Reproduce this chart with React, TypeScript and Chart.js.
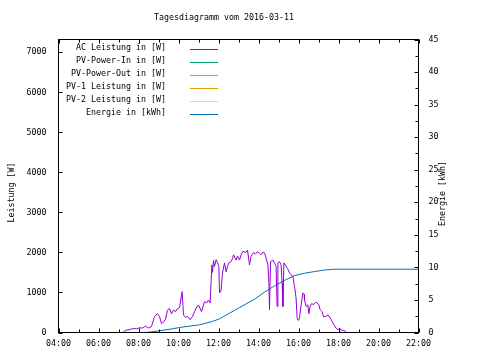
import React, { useEffect, useRef } from "react";
import { Chart, registerables } from "chart.js";

Chart.register(...registerables);

const TITLE = "Tagesdiagramm vom 2016-03-11";
const Y_TITLE = "Leistung [W]";
const Y2_TITLE = "Energie [kWh]";
const SERIES_LABELS = [
  "AC Leistung in [W]",
  "PV-Power-In in [W]",
  "PV-Power-Out in [W]",
  "PV-1 Leistung in [W]",
  "PV-2 Leistung in [W]",
  "Energie in [kWh]",
];
const SERIES_COLORS = ["#9400d3", "#009e73", "#56b4e9", "#e69f00", "#f0e442", "#0072b2"];

// AC power: time of day (hours) and watts
const acHours = [
  7.25, 7.4, 7.6, 7.75, 7.9, 8.05, 8.2, 8.35, 8.5, 8.65,
  8.8, 8.95, 9.05, 9.15, 9.25, 9.35, 9.45, 9.55, 9.65, 9.75,
  9.85, 9.95, 10.05, 10.18, 10.25, 10.35, 10.45, 10.58, 10.7, 10.8,
  10.88, 11.0, 11.15, 11.3, 11.4, 11.5, 11.58, 11.67, 11.7, 11.75,
  11.8, 11.88, 11.95, 12.02, 12.05, 12.13, 12.2, 12.3, 12.38, 12.45,
  12.52, 12.63, 12.7, 12.75, 12.88, 12.95, 13.05, 13.13, 13.22, 13.35,
  13.45, 13.55, 13.63, 13.75, 13.85, 13.95, 14.05, 14.13, 14.2, 14.3,
  14.38, 14.47, 14.52, 14.55, 14.6, 14.72, 14.8, 14.88, 14.93, 14.97,
  15.05, 15.13, 15.18, 15.22, 15.27, 15.38, 15.45, 15.55, 15.62, 15.72,
  15.8, 15.88, 15.93, 16.0, 16.05, 16.13, 16.22, 16.28, 16.3, 16.38,
  16.47, 16.52, 16.58, 16.65, 16.75, 16.85, 16.92, 17.02, 17.08, 17.18,
  17.25, 17.35, 17.47, 17.58, 17.68, 17.8, 17.88, 17.97, 18.05, 18.15,
  18.25, 18.35, 18.4,
];
const acWatts = [
  20, 60, 80, 100, 90, 120, 110, 160, 110, 150,
  400, 470, 400, 220, 260, 330, 560, 600, 470, 560,
  520, 600, 620, 1020, 440, 380, 400, 320, 400, 520,
  610, 690, 520, 770, 740, 810, 740, 1690, 1500, 1800,
  1650, 1820, 1750, 1650, 990, 1060, 1490, 1740, 1520, 1650,
  1740, 1770, 1850, 1940, 1810, 1910, 1810, 1940, 2030, 2000,
  2060, 1690, 1900, 2000, 1960, 2020, 1980, 1940, 2000, 1990,
  1860, 1690, 1240, 570, 1770, 1810, 1740, 1650, 650, 1740,
  1770, 1690, 1240, 650, 1740, 1650, 1600, 1490, 1450, 1400,
  1150, 860, 370, 300, 370, 690, 990, 950, 810, 650,
  690, 470, 650, 720, 700, 740, 750, 690, 570, 520,
  400, 400, 440, 370, 275, 170, 110, 67, 110, 50,
  60, 30, 0,
];

// Energy: time of day (hours) and kWh
const energyHours = [8.4, 9.05, 9.7, 10.05, 11.05, 11.7, 12.05, 12.55, 12.8, 13.05, 13.8, 14.3, 14.8, 15.3, 15.8, 16.3, 16.8, 17.3, 17.8, 22.0];
const energyKWh = [0, 0.26, 0.57, 0.77, 1.18, 1.7, 2.1, 2.97, 3.38, 3.84, 5.1, 6.2, 7.17, 8.0, 8.75, 9.1, 9.36, 9.6, 9.72, 9.72];

// Tick values
const xTickHours = [4, 6, 8, 10, 12, 14, 16, 18, 20, 22];
const yTickWatts = [0, 1000, 2000, 3000, 4000, 5000, 6000, 7000];
const y2TickKWh = [0, 5, 10, 15, 20, 25, 30, 35, 40, 45];

const X_MIN = 4;
const X_MAX = 22;
const Y_MAX = 7320;
const Y2_MAX = 45;

const FONT = "'DejaVu Sans Mono', 'Liberation Mono', monospace";
const FONT_SIZE = 8.3;

const gnuPlugin = {
  id: "gnuFrame",
  afterDraw(chart: any) {
    const { ctx, chartArea: a, scales } = chart;
    ctx.save();
    ctx.strokeStyle = "#000";
    ctx.lineWidth = 1;
    ctx.strokeRect(a.left, a.top, a.right - a.left, a.bottom - a.top);

    ctx.beginPath();
    // left ticks (major only)
    scales.y.ticks.forEach((t: any) => {
      const py = Math.round(scales.y.getPixelForValue(t.value)) + 0.5;
      ctx.moveTo(a.left, py);
      ctx.lineTo(a.left + 4, py);
    });
    // right ticks (major + minor halfway)
    scales.y2.ticks.forEach((t: any, i: number) => {
      const py = Math.round(scales.y2.getPixelForValue(t.value)) + 0.5;
      ctx.moveTo(a.right, py);
      ctx.lineTo(a.right - 4, py);
      const nxt = scales.y2.ticks[i + 1];
      if (nxt) {
        const pm = Math.round(scales.y2.getPixelForValue((t.value + nxt.value) / 2)) + 0.5;
        ctx.moveTo(a.right, pm);
        ctx.lineTo(a.right - 3, pm);
      }
    });
    // bottom and top ticks (major + minor halfway)
    scales.x.ticks.forEach((t: any, i: number) => {
      const px = Math.round(scales.x.getPixelForValue(t.value)) + 0.5;
      ctx.moveTo(px, a.bottom);
      ctx.lineTo(px, a.bottom - 4);
      ctx.moveTo(px, a.top);
      ctx.lineTo(px, a.top + 4);
      const nxt = scales.x.ticks[i + 1];
      if (nxt) {
        const pm = Math.round(scales.x.getPixelForValue((t.value + nxt.value) / 2)) + 0.5;
        ctx.moveTo(pm, a.bottom);
        ctx.lineTo(pm, a.bottom - 3);
        ctx.moveTo(pm, a.top);
        ctx.lineTo(pm, a.top + 3);
      }
    });
    ctx.stroke();

    ctx.fillStyle = "#000";
    ctx.font = `${FONT_SIZE}px ${FONT}`;
    ctx.textBaseline = "middle";
    // title
    ctx.textAlign = "center";
    ctx.fillText(TITLE, 224, 18);
    // axis titles
    ctx.save();
    ctx.translate(11.5, 192.5);
    ctx.rotate(-Math.PI / 2);
    ctx.fillText(Y_TITLE, 0, 0);
    ctx.restore();
    ctx.save();
    ctx.translate(442.5, 193.5);
    ctx.rotate(-Math.PI / 2);
    ctx.fillText(Y2_TITLE, 0, 0);
    ctx.restore();

    // legend (key) inside plot, right-justified text
    chart.data.datasets.forEach((ds: any, i: number) => {
      const ty = 48 + 13 * i;
      ctx.textAlign = "right";
      ctx.fillStyle = "#000";
      ctx.fillText(ds.label, 166, ty);
      ctx.strokeStyle = ds.borderColor;
      ctx.beginPath();
      ctx.moveTo(190, 49.5 + 13 * i);
      ctx.lineTo(218, 49.5 + 13 * i);
      ctx.stroke();
    });
    ctx.restore();
  },
};

export default function App() {
  const ref = useRef<HTMLCanvasElement | null>(null);

  useEffect(() => {
    if (!ref.current) return;
    const acData = acHours.map((h, i) => ({ x: h, y: acWatts[i] }));
    const enData = energyHours.map((h, i) => ({ x: h, y: energyKWh[i] }));
    const dataFor = [acData, [], [], [], [], enData];
    const axisFor = ["y", "y", "y", "y", "y", "y2"];

    const tickFont = { family: FONT, size: FONT_SIZE };
    const chart = new Chart(ref.current, {
      type: "line",
      data: {
        datasets: SERIES_LABELS.map((label, i) => ({
          label,
          data: dataFor[i],
          yAxisID: axisFor[i],
          borderColor: SERIES_COLORS[i],
          backgroundColor: SERIES_COLORS[i],
          borderWidth: 1,
          pointRadius: 0,
          tension: 0,
          fill: false,
        })),
      },
      options: {
        responsive: false,
        animation: false,
        events: [],
        layout: { padding: { top: 39.5, left: 0, right: 0, bottom: 0 } },
        plugins: {
          legend: { display: false },
          title: { display: false },
          tooltip: { enabled: false },
        },
        scales: {
          x: {
            type: "linear",
            position: "bottom",
            min: X_MIN,
            max: X_MAX,
            grid: { display: false, drawTicks: false },
            border: { display: false },
            afterBuildTicks: (s: any) => {
              s.ticks = xTickHours.map((v) => ({ value: v }));
            },
            ticks: {
              color: "#000",
              font: tickFont,
              padding: 6,
              maxRotation: 0,
              autoSkip: false,
              callback: (v: any) => `${String(v).padStart(2, "0")}:00`,
            },
            afterFit: (s: any) => {
              s.height = 27.5;
            },
          },
          y: {
            type: "linear",
            position: "left",
            min: 0,
            max: Y_MAX,
            grid: { display: false, drawTicks: false },
            border: { display: false },
            afterBuildTicks: (s: any) => {
              s.ticks = yTickWatts.map((v) => ({ value: v }));
            },
            ticks: {
              color: "#000",
              font: tickFont,
              padding: 12,
              autoSkip: false,
              callback: (v: any) => String(v),
            },
            afterFit: (s: any) => {
              s.width = 58.5;
            },
          },
          y2: {
            type: "linear",
            position: "right",
            min: 0,
            max: Y2_MAX,
            grid: { display: false, drawTicks: false },
            border: { display: false },
            afterBuildTicks: (s: any) => {
              s.ticks = y2TickKWh.map((v) => ({ value: v }));
            },
            ticks: {
              color: "#000",
              font: tickFont,
              padding: 10,
              autoSkip: false,
              callback: (v: any) => String(v),
            },
            afterFit: (s: any) => {
              s.width = 61.5;
            },
          },
        },
      },
      plugins: [gnuPlugin],
    });
    return () => chart.destroy();
  }, []);

  return (
    <div style={{ position: "fixed", left: 0, top: 0, width: 480, height: 360, background: "#fff" }}>
      <canvas ref={ref} width={480} height={360} style={{ display: "block", width: 480, height: 360 }} />
    </div>
  );
}
